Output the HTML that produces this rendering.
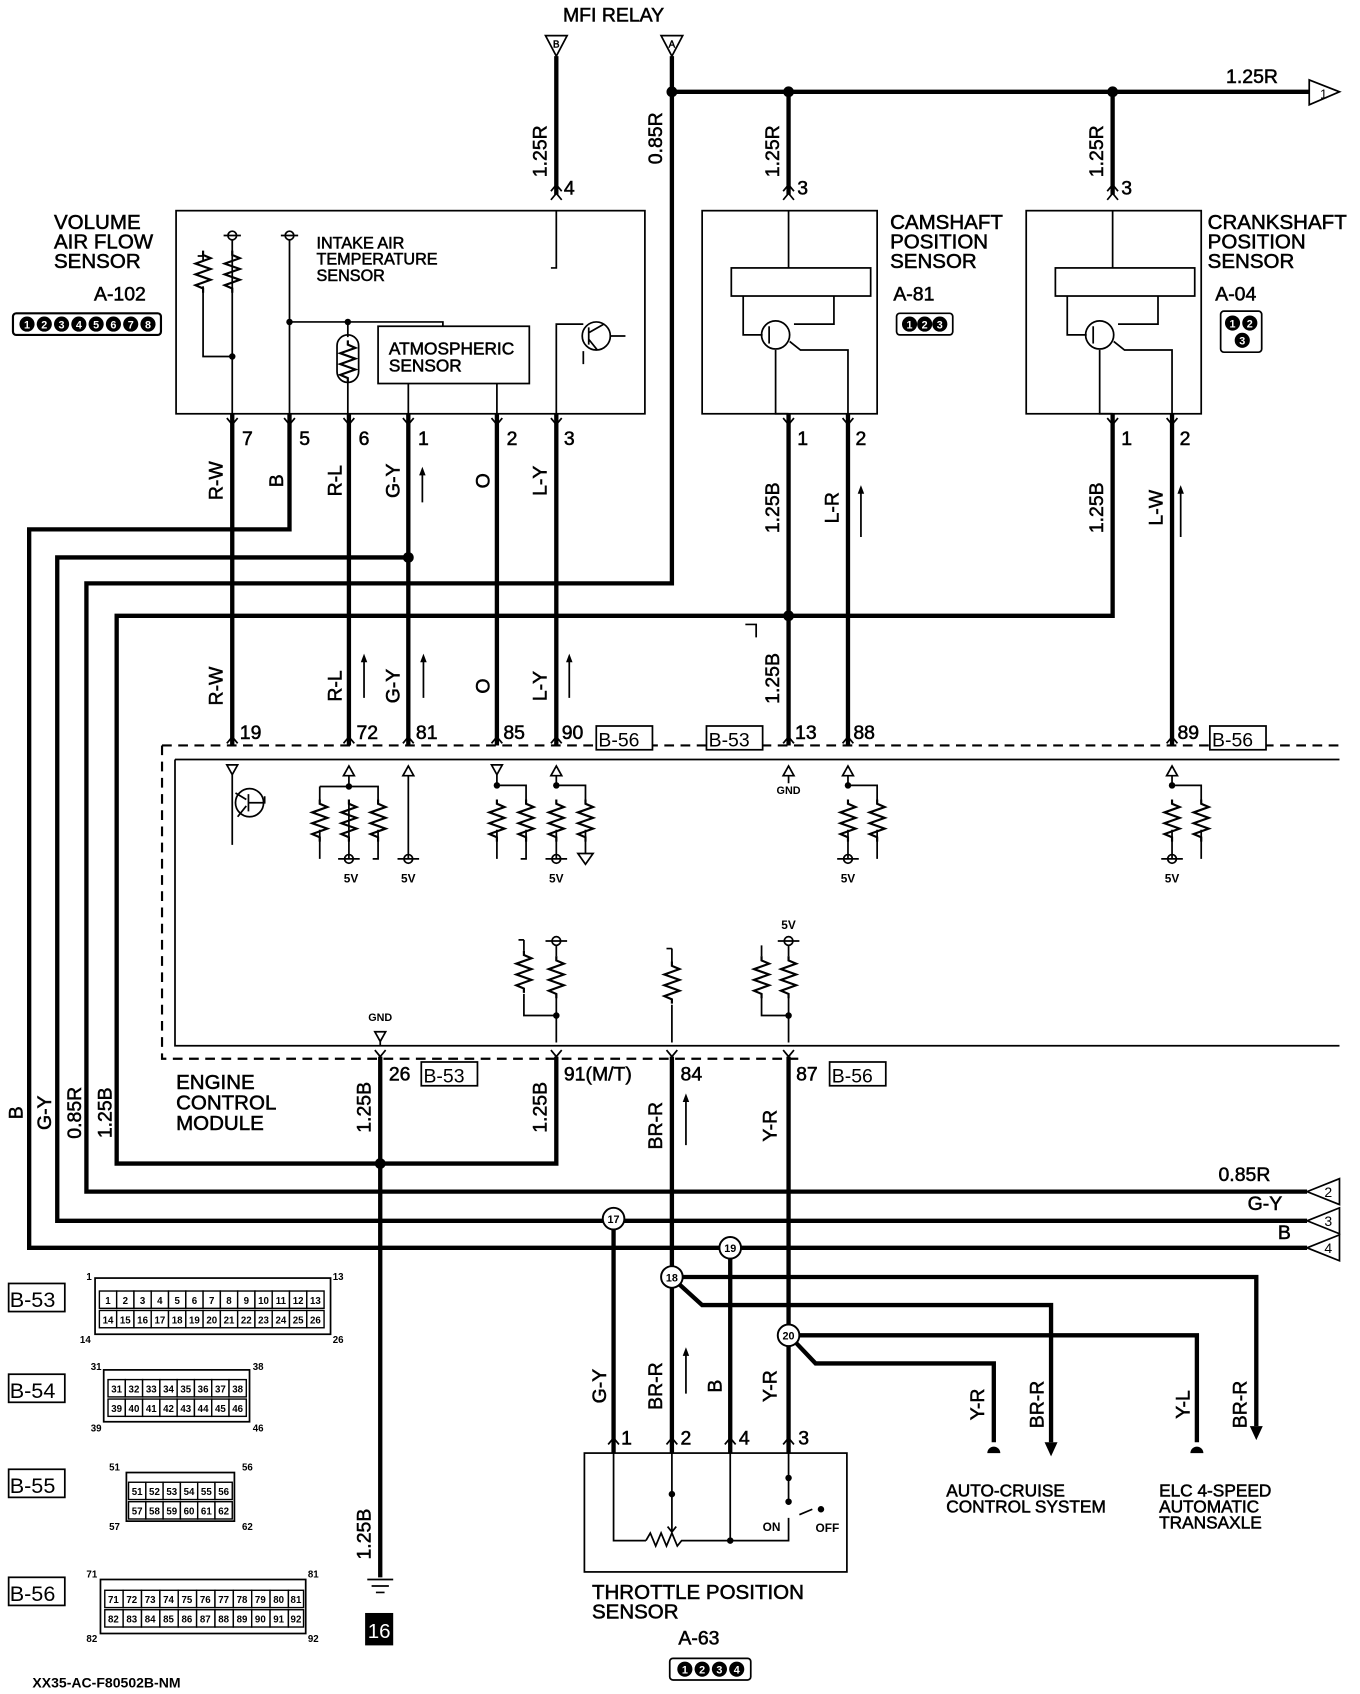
<!DOCTYPE html>
<html><head><meta charset="utf-8"><style>
html,body{margin:0;padding:0;background:#fff;}
svg{display:block}
text{font-family:"Liberation Sans",sans-serif;fill:#000}
.t{stroke:#000;stroke-width:4;fill:none}
.n{stroke:#000;stroke-width:1.6;fill:none}
.d{stroke:#000;stroke-width:2;fill:none;stroke-dasharray:9 6}
.b{stroke:#000;stroke-width:0.5}
.cw{fill:#fff;stroke:none}
</style></head><body>
<svg width="1360" height="1694" viewBox="0 0 1259 1568" preserveAspectRatio="none" xmlns="http://www.w3.org/2000/svg">
<defs>
<path id="rz" d="M0 0 v4 l7 3 l-14 5 l14 5 l-14 5 l14 5 l-14 5 l7 3 v4" fill="none" stroke="#000" stroke-width="2"/>
</defs>
<rect width="1259" height="1568" fill="#fff"/>
<g class="b">
<!-- top -->
<text x="568" y="20" font-size="18" text-anchor="middle">MFI RELAY</text>
<polygon points="505,33 525,33 515,52" fill="#fff" stroke="#000" stroke-width="1.6"/><text x="515" y="44" font-size="9" text-anchor="middle">B</text>
<polygon points="612,33 632,33 622,52" fill="#fff" stroke="#000" stroke-width="1.6"/><text x="622" y="44" font-size="9" text-anchor="middle">A</text>
<text x="1135" y="77" font-size="18">1.25R</text>
<g font-size="18" text-anchor="middle">
<text transform="translate(506,140) rotate(-90)">1.25R</text>
<text transform="translate(613,128) rotate(-90)">0.85R</text>
<text transform="translate(721,140) rotate(-90)">1.25R</text>
<text transform="translate(1021,140) rotate(-90)">1.25R</text>
</g>
<g font-size="18"><text x="522" y="180">4</text><text x="738" y="180">3</text><text x="1038" y="180">3</text></g>
<text x="50" y="212" font-size="19">VOLUME</text><text x="50" y="230" font-size="19">AIR FLOW</text><text x="50" y="248" font-size="19">SENSOR</text>
<text x="87" y="278" font-size="18">A-102</text>
<text x="293" y="230" font-size="15">INTAKE AIR</text><text x="293" y="245" font-size="15">TEMPERATURE</text><text x="293" y="260" font-size="15">SENSOR</text>
<text x="360" y="328" font-size="16">ATMOSPHERIC</text><text x="360" y="344" font-size="16">SENSOR</text>
<text x="824" y="212" font-size="19">CAMSHAFT</text><text x="824" y="230" font-size="19">POSITION</text><text x="824" y="248" font-size="19">SENSOR</text>
<text x="827" y="278" font-size="18">A-81</text>
<text x="1118" y="212" font-size="19">CRANKSHAFT</text><text x="1118" y="230" font-size="19">POSITION</text><text x="1118" y="248" font-size="19">SENSOR</text>
<text x="1125" y="278" font-size="18">A-04</text>
<g font-size="18"><text x="224" y="412">7</text><text x="277" y="412">5</text><text x="332" y="412">6</text><text x="387" y="412">1</text><text x="469" y="412">2</text><text x="522" y="412">3</text>
<text x="738" y="412">1</text><text x="792" y="412">2</text><text x="1038" y="412">1</text><text x="1092" y="412">2</text></g>
<g font-size="18" text-anchor="middle">
<text transform="translate(206,445) rotate(-90)">R-W</text><text transform="translate(262,445) rotate(-90)">B</text>
<text transform="translate(316,445) rotate(-90)">R-L</text><text transform="translate(370,445) rotate(-90)">G-Y</text>
<text transform="translate(453,445) rotate(-90)">O</text><text transform="translate(506,445) rotate(-90)">L-Y</text>
<text transform="translate(721,470) rotate(-90)">1.25B</text><text transform="translate(776,470) rotate(-90)">L-R</text>
<text transform="translate(1021,470) rotate(-90)">1.25B</text><text transform="translate(1076,470) rotate(-90)">L-W</text>
<text transform="translate(206,635) rotate(-90)">R-W</text><text transform="translate(316,635) rotate(-90)">R-L</text>
<text transform="translate(370,635) rotate(-90)">G-Y</text><text transform="translate(453,635) rotate(-90)">O</text>
<text transform="translate(506,635) rotate(-90)">L-Y</text><text transform="translate(721,628) rotate(-90)">1.25B</text>
</g>
<g font-size="18"><text x="222" y="684">19</text><text x="330" y="684">72</text><text x="385" y="684">81</text><text x="466" y="684">85</text><text x="520" y="684">90</text><text x="736" y="684">13</text><text x="790" y="684">88</text><text x="1090" y="684">89</text>
<text x="360" y="1000">26</text><text x="522" y="1000">91(M/T)</text><text x="630" y="1000">84</text><text x="737" y="1000">87</text></g>
<text x="163" y="1008" font-size="19">ENGINE</text><text x="163" y="1027" font-size="19">CONTROL</text><text x="163" y="1046" font-size="19">MODULE</text>
<g font-size="18" text-anchor="middle">
<text transform="translate(343,1025) rotate(-90)">1.25B</text><text transform="translate(506,1025) rotate(-90)">1.25B</text>
<text transform="translate(613,1042) rotate(-90)">BR-R</text><text transform="translate(719,1042) rotate(-90)">Y-R</text>
<text transform="translate(21,1030) rotate(-90)">B</text><text transform="translate(47,1030) rotate(-90)">G-Y</text>
<text transform="translate(75,1030) rotate(-90)">0.85R</text><text transform="translate(103,1030) rotate(-90)">1.25B</text>
<text transform="translate(343,1420) rotate(-90)">1.25B</text>
<text transform="translate(561,1283) rotate(-90)">G-Y</text><text transform="translate(613,1283) rotate(-90)">BR-R</text>
<text transform="translate(668,1283) rotate(-90)">B</text><text transform="translate(719,1283) rotate(-90)">Y-R</text>
<text transform="translate(911,1300) rotate(-90)">Y-R</text><text transform="translate(966,1300) rotate(-90)">BR-R</text>
<text transform="translate(1101,1300) rotate(-90)">Y-L</text><text transform="translate(1154,1300) rotate(-90)">BR-R</text>
</g>
<g font-size="18"><text x="1128" y="1093">0.85R</text><text x="1155" y="1120">G-Y</text><text x="1183" y="1147">B</text></g>
<text x="876" y="1385" font-size="16">AUTO-CRUISE</text><text x="876" y="1400" font-size="16">CONTROL SYSTEM</text>
<text x="1073" y="1385" font-size="16">ELC 4-SPEED</text><text x="1073" y="1400" font-size="16">AUTOMATIC</text><text x="1073" y="1415" font-size="16">TRANSAXLE</text>
<g font-size="18"><text x="575" y="1337">1</text><text x="630" y="1337">2</text><text x="684" y="1337">4</text><text x="739" y="1337">3</text></g>
<text x="548" y="1480" font-size="19">THROTTLE POSITION</text><text x="548" y="1498" font-size="19">SENSOR</text>
<text x="628" y="1522" font-size="18">A-63</text>
</g>
<path class="t" d="M515 52V180M622 52V540H80V1103H1210M622 85H1212M730 85V180M1030 85V180"/>
<circle cx="622" cy="85" r="5"/><circle cx="730" cy="85" r="5"/><circle cx="1030" cy="85" r="5"/>
<polygon points="1212,74 1240,85 1212,97" fill="#fff" stroke="#000" stroke-width="1.6"/><text x="1222" y="91" font-size="12">1</text>
<path class="n" d="M510 177l5-6 5 6M510 185l5-6 5 6M725 177l5-6 5 6M725 185l5-6 5 6M1025 177l5-6 5 6M1025 185l5-6 5 6"/>
<!-- VAF -->
<rect x="12" y="290" width="137" height="20" rx="3" fill="#fff" stroke="#000" stroke-width="2"/>
<g font-size="10" text-anchor="middle" font-weight="bold">
<circle cx="25" cy="300" r="7"/><text class="cw" x="25" y="304">1</text>
<circle cx="41" cy="300" r="7"/><text class="cw" x="41" y="304">2</text>
<circle cx="57" cy="300" r="7"/><text class="cw" x="57" y="304">3</text>
<circle cx="73" cy="300" r="7"/><text class="cw" x="73" y="304">4</text>
<circle cx="89" cy="300" r="7"/><text class="cw" x="89" y="304">5</text>
<circle cx="105" cy="300" r="7"/><text class="cw" x="105" y="304">6</text>
<circle cx="121" cy="300" r="7"/><text class="cw" x="121" y="304">7</text>
<circle cx="137" cy="300" r="7"/><text class="cw" x="137" y="304">8</text>
</g>
<rect x="163" y="195" width="434" height="188" class="n" stroke-width="2"/>
<path class="n" d="M515 195V248h-5M183 237h5v5M188 265V330H215M215 222V383M268 222V383M268 298H410V302M322 298V312M322 352V383M378 355V383M460 355V383M515 383V300H540"/>
<circle cx="215" cy="218" r="4" class="n"/><path class="n" d="M207 218h16M260 218h16"/><circle cx="268" cy="218" r="4" class="n"/>
<use href="#rz" x="188" y="232"/><use href="#rz" x="215" y="232"/>
<circle cx="215" cy="330" r="3"/><circle cx="268" cy="298" r="3"/><circle cx="322" cy="298" r="3"/>
<rect x="312" y="310" width="20" height="44" rx="10" class="n"/><use href="#rz" x="322" y="315"/>
<rect x="350" y="302" width="140" height="53" class="n"/>
<circle cx="552" cy="311" r="13" class="n"/><path class="n" d="M545 303v16M545 308l14-8M545 314l8 10M565 311h14M540 325v12"/>
<path class="t" d="M215 383V690M268 383V490H27V1155H1210M323 383V690M378 383V690M378 516H53V1130H1210M460 383V690M515 383V690"/>
<circle cx="378" cy="516" r="5"/>
<path class="n" d="M210 387l5 6 5-6M263 387l5 6 5-6M318 387l5 6 5-6M373 387l5 6 5-6M455 387l5 6 5-6M510 387l5 6 5-6"/>
<rect x="830" y="290" width="52" height="20" rx="3" class="n" stroke-width="2"/>
<g font-size="10" text-anchor="middle" font-weight="bold"><circle cx="842" cy="300" r="7"/><text class="cw" x="842" y="304">1</text><circle cx="856" cy="300" r="7"/><text class="cw" x="856" y="304">2</text><circle cx="870" cy="300" r="7"/><text class="cw" x="870" y="304">3</text></g>
<rect x="1130" y="288" width="38" height="38" rx="3" class="n" stroke-width="2"/>
<g font-size="10" text-anchor="middle" font-weight="bold"><circle cx="1141" cy="299" r="7"/><text class="cw" x="1141" y="303">1</text><circle cx="1157" cy="299" r="7"/><text class="cw" x="1157" y="303">2</text><circle cx="1150" cy="315" r="7"/><text class="cw" x="1150" y="319">3</text></g>
<g id="cs">
<rect x="650" y="195" width="162" height="188" class="n" stroke-width="2"/>
<rect x="677" y="248" width="129" height="26" class="n"/>
<path class="n" d="M730 195V248M688 274V310H706M772 274V300H735M718 324V383H730M731 316l10 8H785V383"/>
<circle cx="718" cy="310" r="13" class="n"/><path class="n" d="M712 302v16"/>
</g>
<use href="#cs" x="300"/>
<path class="t" d="M730 383V690M785 383V690M1030 383V570H108V1077H515V978M1085 383V690M352 978V1460M622 978V1345M730 978V1345"/>
<circle cx="730" cy="570" r="5"/><circle cx="352" cy="1077" r="5"/>
<path class="n" d="M725 387l5 6 5-6M780 387l5 6 5-6M1025 387l5 6 5-6M1080 387l5 6 5-6"/>
<path class="n" d="M391 435v30M797 452v45M1093 452v45M337 608v38M392 608v38M527 608v38M635 1015v45M635 1250v40M690 578h10v12"/>
<path d="M388 440l3-8 3 8zM794 457l3-8 3 8zM1090 457l3-8 3 8zM334 613l3-8 3 8zM389 613l3-8 3 8zM524 613l3-8 3 8zM632 1020l3-8 3 8zM632 1255l3-8 3 8z"/>
<!-- ECM box -->
<path class="d" d="M150 690H1240M150 690V980H740"/>
<path class="n" stroke-width="2.2" d="M162 703H1240M162 703V968H1240"/>
<path class="n" d="M210 688l5-6 5 6M318 688l5-6 5 6M373 688l5-6 5 6M455 688l5-6 5 6M510 688l5-6 5 6M725 688l5-6 5 6M780 688l5-6 5 6M1080 688l5-6 5 6M347 972l5 6 5-6M510 972l5 6 5-6M617 972l5 6 5-6M725 972l5 6 5-6"/>
<g font-size="18" stroke="#000" stroke-width="1.6">
<rect x="552" y="672" width="52" height="22" fill="#fff"/><text x="554" y="691" stroke="none">B-56</text>
<rect x="654" y="672" width="52" height="22" fill="#fff"/><text x="656" y="691" stroke="none">B-53</text>
<rect x="1120" y="672" width="52" height="22" fill="#fff"/><text x="1122" y="691" stroke="none">B-56</text>
<rect x="390" y="983" width="52" height="22" fill="#fff"/><text x="392" y="1002" stroke="none">B-53</text>
<rect x="768" y="983" width="52" height="22" fill="#fff"/><text x="770" y="1002" stroke="none">B-56</text>
</g>
<g class="n">
<path d="M210 708h10l-5 9zM318 718h10l-5-9zM373 718h10l-5-9zM455 708h10l-5 9zM510 718h10l-5-9zM725 718h10l-5-9zM780 718h10l-5-9zM1080 718h10l-5-9z"/>
<path d="M215 717V782M230 735v16M228 740l-10-6M228 746l-8 10M230 743h15v-6"/>
<circle cx="231" cy="743" r="13"/>
<path d="M323 718V728M296 728H350V740M296 728V740M323 740V795M296 768V795M350 768V795h-5M313 795h20M378 718V795M368 795h20M460 717V727M460 727H487V740M460 768V795M487 768V795h-5M515 718V727M515 727H542V740M515 768V795M505 795h20M542 768V790M535 790h14l-7 10zM730 718V725M785 718V727H812V740M785 768V795M775 795h20M812 768V795M1085 718V727H1112V740M1085 768V795M1075 795h20M1112 768V795"/>
<circle cx="323" cy="795" r="4"/><circle cx="378" cy="795" r="4"/><circle cx="515" cy="795" r="4"/><circle cx="785" cy="795" r="4"/><circle cx="1085" cy="795" r="4"/>
</g>
<g><use href="#rz" x="296" y="740"/><use href="#rz" x="323" y="740"/><use href="#rz" x="350" y="740"/><use href="#rz" x="460" y="740"/><use href="#rz" x="487" y="740"/><use href="#rz" x="515" y="740"/><use href="#rz" x="542" y="740"/><use href="#rz" x="785" y="740"/><use href="#rz" x="812" y="740"/><use href="#rz" x="1085" y="740"/><use href="#rz" x="1112" y="740"/></g>
<circle cx="323" cy="728" r="3"/><circle cx="460" cy="727" r="3"/><circle cx="515" cy="727" r="3"/><circle cx="785" cy="727" r="3"/><circle cx="1085" cy="727" r="3"/>
<g font-size="11" font-weight="bold" text-anchor="middle"><text x="325" y="817">5V</text><text x="378" y="817">5V</text><text x="515" y="817">5V</text><text x="785" y="817">5V</text><text x="1085" y="817">5V</text><text x="730" y="735" font-size="10">GND</text><text x="352" y="945" font-size="10">GND</text><text x="730" y="860">5V</text></g>
<g class="n">
<path d="M485 870v10M515 875V885M485 920V940H515M515 920V965M622 878V890M622 930V965M705 875V885M730 875V885M705 920V940H730M730 920V965M347 955h10l-5 9zM352 964V968"/>
<circle cx="515" cy="871" r="4"/><circle cx="730" cy="871" r="4"/><path d="M505 871h20M720 871h20M480 870h5M617 878h5"/>
</g>
<use href="#rz" x="485" y="880"/><use href="#rz" x="515" y="885"/><use href="#rz" x="622" y="890"/><use href="#rz" x="705" y="885"/><use href="#rz" x="730" y="885"/>
<circle cx="515" cy="940" r="3"/><circle cx="730" cy="940" r="3"/>
<g stroke="#000" stroke-width="1.6" fill="#fff">
<polygon points="1210,1103 1240,1091 1240,1115"/><polygon points="1210,1130 1240,1118 1240,1142"/><polygon points="1210,1155 1240,1143 1240,1167"/>
</g>
<g font-size="13"><text x="1226" y="1108">2</text><text x="1226" y="1135">3</text><text x="1226" y="1160">4</text></g>
<path class="t" d="M568 1128V1345M676 1155V1345M622 1182H1163V1320M628 1188L650 1208H973V1335M730 1236H1108V1335M736 1242L755 1262H920V1335"/>
<g fill="#fff" stroke="#000" stroke-width="1.8">
<circle cx="568" cy="1128" r="10"/><circle cx="676" cy="1155" r="10"/><circle cx="622" cy="1182" r="10"/><circle cx="730" cy="1236" r="10"/></g>
<g font-size="10" text-anchor="middle" font-weight="bold"><text x="568" y="1132">17</text><text x="676" y="1159">19</text><text x="622" y="1186">18</text><text x="730" y="1240">20</text></g>
<path d="M914 1345a6 6 0 0 1 12 0zM1102 1345a6 6 0 0 1 12 0zM967 1335h12l-6 13zM1157 1320h12l-6 13z"/>
<path class="n" d="M563 1337l5-6 5 6M617 1337l5-6 5 6M671 1337l5-6 5 6M725 1337l5-6 5 6"/>
<rect x="541" y="1345" width="243" height="110" class="n" stroke-width="2"/>
<path class="n" d="M568 1345V1426H598M622 1345V1418M676 1345V1426H730V1405M730 1345V1390M618 1413l4 5 4-5M740 1402l12-5"/>
<path class="n" d="M598 1426l4 -7 5 12 5-12 5 12 5-12 5 12 4-5H676" stroke-width="1.8"/>
<circle cx="622" cy="1383" r="3"/><circle cx="676" cy="1426" r="3"/><circle cx="730" cy="1368" r="3"/><circle cx="730" cy="1390" r="3"/><circle cx="760" cy="1397" r="3"/>
<text x="706" y="1417" font-size="11" font-weight="bold">ON</text><text x="755" y="1418" font-size="11" font-weight="bold">OFF</text>
<rect x="620" y="1535" width="75" height="20" rx="3" class="n" stroke-width="2"/>
<g font-size="10" text-anchor="middle" font-weight="bold"><circle cx="634" cy="1545" r="7"/><text class="cw" x="634" y="1549">1</text><circle cx="650" cy="1545" r="7"/><text class="cw" x="650" y="1549">2</text><circle cx="666" cy="1545" r="7"/><text class="cw" x="666" y="1549">3</text><circle cx="682" cy="1545" r="7"/><text class="cw" x="682" y="1549">4</text></g>
<path class="n" d="M340 1462h24M344 1468h16M348 1474h8"/>
<rect x="338" y="1493" width="26" height="30" fill="#000"/><text x="351" y="1516" font-size="19" text-anchor="middle" style="fill:#fff">16</text>
<g font-size="20" stroke="#000" stroke-width="1.6">
<rect x="8" y="1188" width="52" height="26" fill="#fff"/><text x="9" y="1210" stroke="none">B-53</text>
<rect x="8" y="1272" width="52" height="26" fill="#fff"/><text x="9" y="1294" stroke="none">B-54</text>
<rect x="8" y="1360" width="52" height="26" fill="#fff"/><text x="9" y="1382" stroke="none">B-55</text>
<rect x="8" y="1460" width="52" height="26" fill="#fff"/><text x="9" y="1482" stroke="none">B-56</text>
</g>
<g font-size="9" font-weight="bold">
<rect x="88" y="1183" width="218" height="52" class="n" stroke-width="2"/>
<text x="80" y="1185">1</text><text x="308" y="1185">13</text><text x="74" y="1243">14</text><text x="308" y="1243">26</text>
<rect x="96" y="1268" width="135" height="48" class="n" stroke-width="2"/>
<text x="84" y="1268">31</text><text x="234" y="1268">38</text><text x="84" y="1325">39</text><text x="234" y="1325">46</text>
<rect x="117" y="1363" width="100" height="45" class="n" stroke-width="2"/>
<text x="101" y="1361">51</text><text x="224" y="1361">56</text><text x="101" y="1416">57</text><text x="224" y="1416">62</text>
<rect x="93" y="1462" width="190" height="50" class="n" stroke-width="2"/>
<text x="80" y="1460">71</text><text x="285" y="1460">81</text><text x="80" y="1520">82</text><text x="285" y="1520">92</text>
</g>
<g font-size="9" text-anchor="middle" stroke="#000" stroke-width="1.3" font-weight="bold">
<g fill="#fff"><rect x="92" y="1195" width="16" height="16"/><rect x="108" y="1195" width="16" height="16"/><rect x="124" y="1195" width="16" height="16"/><rect x="140" y="1195" width="16" height="16"/><rect x="156" y="1195" width="16" height="16"/><rect x="172" y="1195" width="16" height="16"/><rect x="188" y="1195" width="16" height="16"/><rect x="204" y="1195" width="16" height="16"/><rect x="220" y="1195" width="16" height="16"/><rect x="236" y="1195" width="16" height="16"/><rect x="252" y="1195" width="16" height="16"/><rect x="268" y="1195" width="16" height="16"/><rect x="284" y="1195" width="16" height="16"/>
<rect x="92" y="1213" width="16" height="16"/><rect x="108" y="1213" width="16" height="16"/><rect x="124" y="1213" width="16" height="16"/><rect x="140" y="1213" width="16" height="16"/><rect x="156" y="1213" width="16" height="16"/><rect x="172" y="1213" width="16" height="16"/><rect x="188" y="1213" width="16" height="16"/><rect x="204" y="1213" width="16" height="16"/><rect x="220" y="1213" width="16" height="16"/><rect x="236" y="1213" width="16" height="16"/><rect x="252" y="1213" width="16" height="16"/><rect x="268" y="1213" width="16" height="16"/><rect x="284" y="1213" width="16" height="16"/></g>
<g stroke="none"><text x="100" y="1207">1</text><text x="116" y="1207">2</text><text x="132" y="1207">3</text><text x="148" y="1207">4</text><text x="164" y="1207">5</text><text x="180" y="1207">6</text><text x="196" y="1207">7</text><text x="212" y="1207">8</text><text x="228" y="1207">9</text><text x="244" y="1207">10</text><text x="260" y="1207">11</text><text x="276" y="1207">12</text><text x="292" y="1207">13</text>
<text x="100" y="1225">14</text><text x="116" y="1225">15</text><text x="132" y="1225">16</text><text x="148" y="1225">17</text><text x="164" y="1225">18</text><text x="180" y="1225">19</text><text x="196" y="1225">20</text><text x="212" y="1225">21</text><text x="228" y="1225">22</text><text x="244" y="1225">23</text><text x="260" y="1225">24</text><text x="276" y="1225">25</text><text x="292" y="1225">26</text></g>
<g fill="#fff"><rect x="100" y="1277" width="16" height="16"/><rect x="116" y="1277" width="16" height="16"/><rect x="132" y="1277" width="16" height="16"/><rect x="148" y="1277" width="16" height="16"/><rect x="164" y="1277" width="16" height="16"/><rect x="180" y="1277" width="16" height="16"/><rect x="196" y="1277" width="16" height="16"/><rect x="212" y="1277" width="16" height="16"/>
<rect x="100" y="1295" width="16" height="16"/><rect x="116" y="1295" width="16" height="16"/><rect x="132" y="1295" width="16" height="16"/><rect x="148" y="1295" width="16" height="16"/><rect x="164" y="1295" width="16" height="16"/><rect x="180" y="1295" width="16" height="16"/><rect x="196" y="1295" width="16" height="16"/><rect x="212" y="1295" width="16" height="16"/></g>
<g stroke="none"><text x="108" y="1289">31</text><text x="124" y="1289">32</text><text x="140" y="1289">33</text><text x="156" y="1289">34</text><text x="172" y="1289">35</text><text x="188" y="1289">36</text><text x="204" y="1289">37</text><text x="220" y="1289">38</text>
<text x="108" y="1307">39</text><text x="124" y="1307">40</text><text x="140" y="1307">41</text><text x="156" y="1307">42</text><text x="172" y="1307">43</text><text x="188" y="1307">44</text><text x="204" y="1307">45</text><text x="220" y="1307">46</text></g>
<g fill="#fff"><rect x="119" y="1372" width="16" height="16"/><rect x="135" y="1372" width="16" height="16"/><rect x="151" y="1372" width="16" height="16"/><rect x="167" y="1372" width="16" height="16"/><rect x="183" y="1372" width="16" height="16"/><rect x="199" y="1372" width="16" height="16"/>
<rect x="119" y="1390" width="16" height="16"/><rect x="135" y="1390" width="16" height="16"/><rect x="151" y="1390" width="16" height="16"/><rect x="167" y="1390" width="16" height="16"/><rect x="183" y="1390" width="16" height="16"/><rect x="199" y="1390" width="16" height="16"/></g>
<g stroke="none"><text x="127" y="1384">51</text><text x="143" y="1384">52</text><text x="159" y="1384">53</text><text x="175" y="1384">54</text><text x="191" y="1384">55</text><text x="207" y="1384">56</text>
<text x="127" y="1402">57</text><text x="143" y="1402">58</text><text x="159" y="1402">59</text><text x="175" y="1402">60</text><text x="191" y="1402">61</text><text x="207" y="1402">62</text></g>
<g fill="#fff"><rect x="97" y="1472" width="17" height="16"/><rect x="114" y="1472" width="17" height="16"/><rect x="131" y="1472" width="17" height="16"/><rect x="148" y="1472" width="17" height="16"/><rect x="165" y="1472" width="17" height="16"/><rect x="182" y="1472" width="17" height="16"/><rect x="199" y="1472" width="17" height="16"/><rect x="216" y="1472" width="17" height="16"/><rect x="233" y="1472" width="17" height="16"/><rect x="250" y="1472" width="17" height="16"/><rect x="267" y="1472" width="14" height="16"/>
<rect x="97" y="1490" width="17" height="16"/><rect x="114" y="1490" width="17" height="16"/><rect x="131" y="1490" width="17" height="16"/><rect x="148" y="1490" width="17" height="16"/><rect x="165" y="1490" width="17" height="16"/><rect x="182" y="1490" width="17" height="16"/><rect x="199" y="1490" width="17" height="16"/><rect x="216" y="1490" width="17" height="16"/><rect x="233" y="1490" width="17" height="16"/><rect x="250" y="1490" width="17" height="16"/><rect x="267" y="1490" width="14" height="16"/></g>
<g stroke="none"><text x="105" y="1484">71</text><text x="122" y="1484">72</text><text x="139" y="1484">73</text><text x="156" y="1484">74</text><text x="173" y="1484">75</text><text x="190" y="1484">76</text><text x="207" y="1484">77</text><text x="224" y="1484">78</text><text x="241" y="1484">79</text><text x="258" y="1484">80</text><text x="274" y="1484">81</text>
<text x="105" y="1502">82</text><text x="122" y="1502">83</text><text x="139" y="1502">84</text><text x="156" y="1502">85</text><text x="173" y="1502">86</text><text x="190" y="1502">87</text><text x="207" y="1502">88</text><text x="224" y="1502">89</text><text x="241" y="1502">90</text><text x="258" y="1502">91</text><text x="274" y="1502">92</text></g>
</g>
<text x="30" y="1562" font-size="13" font-weight="bold">XX35-AC-F80502B-NM</text>
</svg>
</body></html>
